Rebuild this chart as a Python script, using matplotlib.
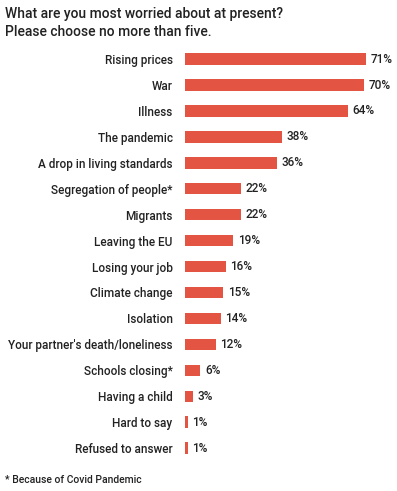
import matplotlib.pyplot as plt

categories = [
    "Rising prices", "War", "Illness", "The pandemic", "A drop in living standards",
    "Segregation of people*", "Migrants", "Leaving the EU", "Losing your job",
    "Climate change", "Isolation", "Your partner's death/loneliness",
    "Schools closing*", "Having a child", "Hard to say", "Refused to answer",
]
values = [71, 70, 64, 38, 36, 22, 22, 19, 16, 15, 14, 12, 6, 3, 1, 1]

title = "What are you most worried about at present?\nPlease choose no more than five."
footnote = "* Because of Covid Pandemic"

plt.rcParams["font.family"] = ["Roboto", "DejaVu Sans"]
plt.rcParams["font.weight"] = "medium"
bar_color = "#e35442"
text_color = "#222222"

fig = plt.figure(figsize=(3.97, 4.91), dpi=100)
ax = fig.add_axes([0.466, 0.061, 0.514, 0.845])

y = list(range(len(categories)))
ax.barh(y, values, height=0.44, color=bar_color)
for yi, v in zip(y, values):
    ax.text(v + 1.8, yi, f"{v}%", va="center", ha="left", fontsize=8.5,
            color=text_color, fontweight="medium")

ax.set_yticks(y)
ax.set_yticklabels(categories, fontsize=8.5, color=text_color, fontweight="medium")
ax.tick_params(axis="y", length=0, pad=9)
ax.set_xticks([])
ax.set_xlim(0, 80)
ax.set_ylim(len(categories) - 0.5, -0.5)
for s in ax.spines.values():
    s.set_visible(False)

fig.text(0.012, 0.985, title, ha="left", va="top", fontsize=10, color=text_color,
         linespacing=1.3, fontweight="medium")
fig.text(0.012, 0.013, footnote, ha="left", va="bottom", fontsize=7.5, color=text_color)

fig.savefig("out.png", dpi=100)
